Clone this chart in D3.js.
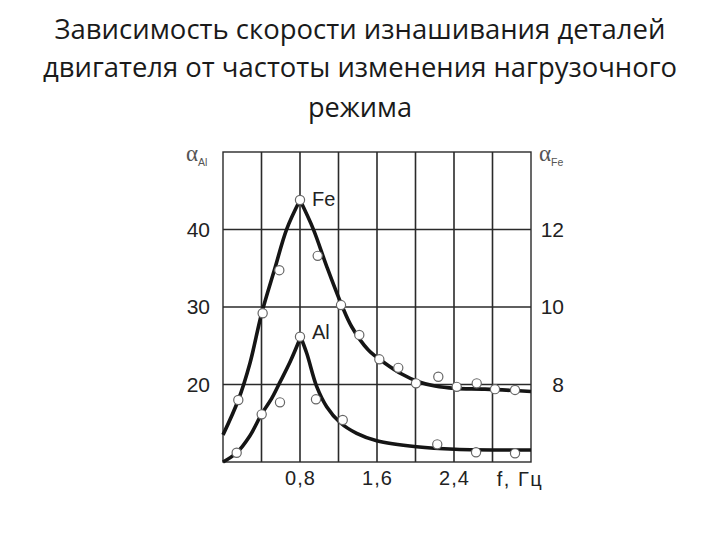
<!DOCTYPE html>
<html><head><meta charset="utf-8">
<script src="https://cdn.jsdelivr.net/npm/d3@7"></script>
<style>
body{margin:0;background:#fff;}
svg{display:block;}
</style></head>
<body>
<svg id="chart" width="720" height="540"></svg>
<script>
// ---- data ----
const titleLines = ["Зависимость скорости изнашивания деталей", "двигателя от частоты изменения нагрузочного", "режима"];
const xTickValues = [0.8, 1.6, 2.4];
const xTickLabels = ["0,8", "1,6", "2,4"];
const xGridValues = [0.4, 0.8, 1.2, 1.6, 2.0, 2.4, 2.8];
const xAxisLabel = "f, Гц";
const alTicks = [20, 30, 40];
const feTicks = [8, 10, 12];

// measured points (circles)
const alPointF = [0.142, 0.402, 0.592, 0.80, 0.966, 1.244, 2.226, 2.629, 3.034];
const alPointV = [11.2, 16.15, 17.7, 26.17, 18.09, 15.42, 12.28, 11.25, 11.12];
const fePointF = [0.159, 0.412, 0.585, 0.80, 0.984, 1.226, 1.416, 1.624, 1.821, 2.005, 2.237, 2.428, 2.636, 2.826, 3.034];
const fePointV = [7.6, 9.84, 10.95, 12.76, 11.32, 10.05, 9.28, 8.65, 8.43, 8.03, 8.20, 7.94, 8.03, 7.88, 7.86];

// fitted curves (rising branch, falling branch)
const feRiseF = [0, 0.159, 0.28, 0.402, 0.537, 0.662, 0.80];
const feRiseV = [6.70, 7.60, 8.55, 9.84, 10.98, 12.01, 12.76];
const feFallF = [0.80, 0.938, 1.08, 1.233, 1.337, 1.51, 1.683, 1.857, 2.029, 2.203, 2.41, 2.722, 3.2];
const feFallV = [12.76, 12.01, 11.03, 10.05, 9.49, 8.89, 8.55, 8.27, 8.07, 7.96, 7.90, 7.88, 7.82];
const alRiseF = [0, 0.142, 0.28, 0.402, 0.506, 0.592, 0.70, 0.807];
const alRiseV = [10.0, 11.2, 13.4, 16.2, 18.2, 20.3, 23.0, 26.13];
const alFallF = [0.807, 0.87, 0.974, 1.077, 1.216, 1.389, 1.597, 2.012, 2.41, 3.2];
const alFallV = [26.13, 24.03, 19.72, 17.14, 15.1, 13.7, 12.75, 11.97, 11.64, 11.55];

// ---- drawing ----
const svg = d3.select("#chart");
const x = d3.scaleLinear().domain([0, 3.2]).range([223, 531]);
const yAl = d3.scaleLinear().domain([10, 50]).range([462, 152]);
const yFe = d3.scaleLinear().domain([6, 14]).range([462, 152]);

// title
const tw = [611, 634, 104];
const tb = [38.5, 77, 116.5];
svg.append("g").selectAll("text").data(titleLines).join("text")
  .attr("x", 360).attr("y", (d, i) => tb[i])
  .attr("text-anchor", "middle")
  .attr("textLength", (d, i) => tw[i])
  .attr("lengthAdjust", "spacingAndGlyphs")
  .style("font-family", "'Open Sans', 'Noto Sans', sans-serif")
  .style("font-size", "27px")
  .style("fill", "#1a1a1a")
  .text(d => d);

// grid
const grid = svg.append("g").attr("stroke", "#2a2a2a").attr("stroke-width", 1.6);
grid.selectAll("line.v").data(xGridValues).join("line")
  .attr("class", "v")
  .attr("x1", d => x(d)).attr("x2", d => x(d))
  .attr("y1", yAl(50)).attr("y2", yAl(10));
grid.selectAll("line.h").data(alTicks).join("line")
  .attr("class", "h")
  .attr("x1", x(0)).attr("x2", x(3.2))
  .attr("y1", d => yAl(d)).attr("y2", d => yAl(d));
svg.append("rect")
  .attr("x", x(0)).attr("y", yAl(50))
  .attr("width", x(3.2) - x(0)).attr("height", yAl(10) - yAl(50))
  .attr("fill", "none").attr("stroke", "#2a2a2a").attr("stroke-width", 1.4);

const labelFont = "'Liberation Sans', Arial, sans-serif";

// left axis (Al)
const gl = svg.append("g").attr("transform", `translate(${x(0)},0)`)
  .call(d3.axisLeft(yAl).tickValues(alTicks).tickSize(0).tickPadding(13));
gl.select(".domain").remove();
gl.selectAll("text").style("font-family", labelFont).style("font-size", "21px").style("fill", "#222");

// right axis (Fe)
const gr = svg.append("g").attr("transform", `translate(${x(3.2)},0)`)
  .call(d3.axisRight(yFe).tickValues(feTicks).tickSize(0));
gr.select(".domain").remove();
gr.selectAll("text").attr("x", 33).attr("text-anchor", "end")
  .style("font-family", labelFont).style("font-size", "21px").style("fill", "#222");

// bottom axis
const gb = svg.append("g").attr("transform", `translate(0,${yAl(10)})`)
  .call(d3.axisBottom(x).tickValues(xTickValues).tickSize(0).tickPadding(9)
    .tickFormat((d, i) => xTickLabels[i]));
gb.select(".domain").remove();
gb.selectAll("text").style("font-family", labelFont).style("font-size", "20px")
  .style("letter-spacing", "1px").style("fill", "#222");
svg.append("text").attr("x", 520).attr("y", 486).attr("text-anchor", "middle")
  .style("font-family", labelFont).style("font-size", "20px").style("letter-spacing", "1.5px")
  .style("fill", "#222").text(xAxisLabel);

// alpha labels
function alphaLabel(xp, sub) {
  const t = svg.append("text").attr("x", xp).attr("y", 161)
    .style("fill", "#555");
  t.append("tspan").style("font-family", "'Liberation Serif', 'DejaVu Serif', serif")
    .style("font-size", "23px").text("α");
  t.append("tspan").attr("dy", 5).attr("dx", 0).style("font-family", labelFont)
    .style("font-size", "10.5px").text(sub);
}
alphaLabel(186, "Al");
alphaLabel(539, "Fe");

// curves
const line = (ys) => d3.line().x(d => x(d[0])).y(d => ys(d[1])).curve(d3.curveCatmullRom.alpha(0.5));
function curvePath(fr, vr, ff, vf, ys) {
  const a = line(ys)(fr.map((f, i) => [f, vr[i]]));
  const b = line(ys)(ff.map((f, i) => [f, vf[i]]));
  return a + "L" + b.slice(1);
}
svg.append("path").attr("d", curvePath(feRiseF, feRiseV, feFallF, feFallV, yFe))
  .attr("fill", "none").attr("stroke", "#151515").attr("stroke-width", 3.6)
  .attr("stroke-linejoin", "miter").attr("stroke-miterlimit", 10);
svg.append("path").attr("d", curvePath(alRiseF, alRiseV, alFallF, alFallV, yAl))
  .attr("fill", "none").attr("stroke", "#151515").attr("stroke-width", 3.6)
  .attr("stroke-linejoin", "miter").attr("stroke-miterlimit", 10);

// points
svg.append("g").selectAll("circle").data(fePointF.map((f, i) => [f, fePointV[i]])).join("circle")
  .attr("cx", d => x(d[0])).attr("cy", d => yFe(d[1])).attr("r", 4.6)
  .attr("fill", "#fff").attr("stroke", "#666").attr("stroke-width", 1.2);
svg.append("g").selectAll("circle").data(alPointF.map((f, i) => [f, alPointV[i]])).join("circle")
  .attr("cx", d => x(d[0])).attr("cy", d => yAl(d[1])).attr("r", 4.6)
  .attr("fill", "#fff").attr("stroke", "#666").attr("stroke-width", 1.2);

// series labels
svg.append("text").attr("x", 312).attr("y", 205.5)
  .style("font-family", labelFont).style("font-size", "20px").style("fill", "#222").text("Fe");
svg.append("text").attr("x", 312).attr("y", 339)
  .style("font-family", labelFont).style("font-size", "20px").style("fill", "#222").text("Al");
</script>
</body></html>
